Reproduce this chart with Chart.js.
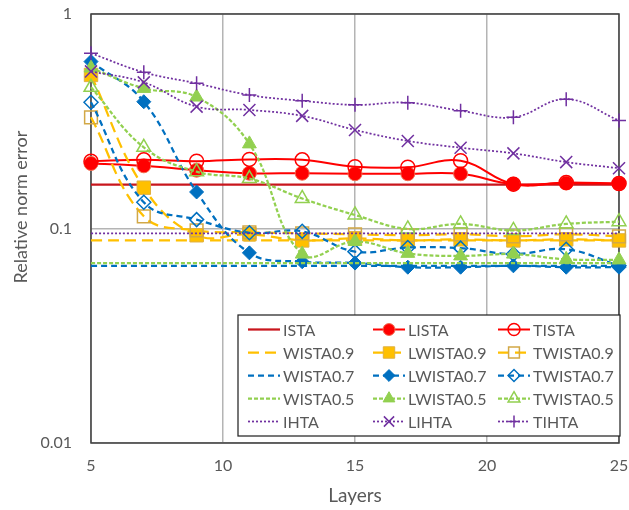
<!DOCTYPE html>
<html>
<head>
<meta charset="utf-8">
<script src="https://cdn.jsdelivr.net/npm/chart.js@4/dist/chart.umd.min.js"></script>
<style>
  html, body { margin: 0; padding: 0; background: #ffffff; }
  #wrap { width: 629px; height: 510px; position: relative; }
</style>
</head>
<body>
<div id="wrap"><canvas id="c" width="629" height="510"></canvas></div>
<script>
// Number of layers on the x axis
const layers = [5, 7, 9, 11, 13, 15, 17, 19, 21, 23, 25];

// Relative norm error per method
const ista      = [0.16, 0.16, 0.16, 0.16, 0.16, 0.16, 0.16, 0.16, 0.16, 0.16, 0.16];
const lista     = [0.201, 0.196, 0.187, 0.181, 0.181, 0.18, 0.18, 0.18, 0.161, 0.163, 0.162];
const tista     = [0.206, 0.209, 0.206, 0.21, 0.209, 0.194, 0.193, 0.207, 0.161, 0.164, 0.162];

const wista09   = [0.088, 0.088, 0.088, 0.088, 0.088, 0.088, 0.088, 0.088, 0.088, 0.088, 0.088];
const lwista09  = [0.52, 0.155, 0.093, 0.094, 0.088, 0.09, 0.088, 0.089, 0.088, 0.089, 0.088];
const twista09  = [0.33, 0.114, 0.098, 0.096, 0.095, 0.094, 0.093, 0.094, 0.092, 0.094, 0.092];

const wista07   = [0.067, 0.067, 0.067, 0.067, 0.067, 0.067, 0.067, 0.067, 0.067, 0.067, 0.067];
const lwista07  = [0.6, 0.39, 0.148, 0.077, 0.07, 0.069, 0.066, 0.066, 0.067, 0.066, 0.066];
const twista07  = [0.388, 0.1325, 0.11, 0.0955, 0.097, 0.078, 0.0815, 0.081, 0.076, 0.08, 0.067];

const wista05   = [0.069, 0.069, 0.069, 0.069, 0.069, 0.069, 0.069, 0.069, 0.069, 0.069, 0.069];
const lwista05  = [0.56, 0.45, 0.41, 0.248, 0.076, 0.087, 0.0766, 0.0745, 0.076, 0.0718, 0.0714];
const twista05  = [0.455, 0.239, 0.184, 0.171, 0.138, 0.1156, 0.0995, 0.105, 0.098, 0.105, 0.1076];

const ihta      = [0.095, 0.095, 0.095, 0.095, 0.095, 0.095, 0.095, 0.095, 0.095, 0.095, 0.095];
const lihta     = [0.54, 0.48, 0.37, 0.357, 0.335, 0.288, 0.256, 0.238, 0.224, 0.204, 0.191];
const tihta     = [0.656, 0.535, 0.475, 0.419, 0.394, 0.377, 0.386, 0.354, 0.33, 0.401, 0.319];

// Axis tick labels
const xTicks = [5, 10, 15, 20, 25];
const yTicks = [0.01, 0.1, 1];

const FONT = 'Lato, "Open Sans", sans-serif';
const TEXT = '#595959';

const RED = '#FF0000', DARKRED = '#C8161D', YEL = '#FFC000', BLUE = '#0070C0', GREEN = '#92D050', PURPLE = '#7030A0';
const DASH_Y = [11, 6], DASH_B = [6, 4], DASH_G = [4, 2], DOT_P = [2, 2];

function pts(values) { return values.map((v, i) => ({ x: layers[i], y: v })); }

function series(label, values, color, dash, width, marker) {
  const m = marker || {};
  return {
    label,
    data: pts(values),
    borderColor: color,
    borderWidth: width,
    borderDash: dash,
    backgroundColor: color,
    tension: 0.4,
    clip: false,
    pointStyle: m.style || 'circle',
    pointRadius: m.radius || 0,
    pointHoverRadius: m.radius || 0,
    pointBackgroundColor: m.fill || 'rgba(0,0,0,0)',
    pointBorderColor: m.stroke || color,
    pointBorderWidth: m.bw || 1.5
  };
}

const datasets = [
  series('ISTA', ista, DARKRED, [], 2.25),
  series('LISTA', lista, RED, [], 2, { style: 'circle', radius: 7, fill: RED, stroke: '#F26B4F', bw: 1 }),
  series('TISTA', tista, RED, [], 2, { style: 'circle', radius: 7, fill: 'rgba(0,0,0,0)', stroke: RED, bw: 1.5 }),

  series('WISTA0.9', wista09, YEL, DASH_Y, 2.25),
  series('LWISTA0.9', lwista09, YEL, DASH_Y, 2.25, { style: 'rect', radius: 9.5, fill: YEL, stroke: '#E0B040', bw: 1 }),
  series('TWISTA0.9', twista09, YEL, DASH_Y, 2.25, { style: 'rect', radius: 9, fill: 'rgba(0,0,0,0)', stroke: '#D2A846', bw: 1.5 }),

  series('WISTA0.7', wista07, BLUE, DASH_B, 2.25),
  series('LWISTA0.7', lwista07, BLUE, DASH_B, 2.25, { style: 'rectRot', radius: 7, fill: BLUE, stroke: BLUE, bw: 1 }),
  series('TWISTA0.7', twista07, BLUE, DASH_B, 2.25, { style: 'rectRot', radius: 7, fill: 'rgba(0,0,0,0)', stroke: BLUE, bw: 1.5 }),

  series('WISTA0.5', wista05, GREEN, DASH_G, 2.25),
  series('LWISTA0.5', lwista05, GREEN, DASH_G, 2.25, { style: 'triangle', radius: 8, fill: GREEN, stroke: GREEN, bw: 1 }),
  series('TWISTA0.5', twista05, GREEN, DASH_G, 2.25, { style: 'triangle', radius: 8, fill: 'rgba(0,0,0,0)', stroke: GREEN, bw: 1.5 }),

  series('IHTA', ihta, PURPLE, DOT_P, 1.75),
  series('LIHTA', lihta, PURPLE, DOT_P, 1.75, { style: 'crossRot', radius: 8.5, stroke: PURPLE, bw: 1.5 }),
  series('TIHTA', tihta, PURPLE, DOT_P, 1.75, { style: 'cross', radius: 7, stroke: PURPLE, bw: 1.5 })
];
// later series sit on top of earlier ones
datasets.forEach((d, i) => { d.order = datasets.length - i; });

// Plot frame under the series, plus the y-axis title
const framePlugin = {
  id: 'frame',
  beforeDatasetsDraw(chart) {
    const { ctx, chartArea: a } = chart;
    ctx.save();
    ctx.strokeStyle = '#404040';
    ctx.lineWidth = 1.5;
    ctx.strokeRect(a.left, a.top, a.right - a.left, a.bottom - a.top);
    ctx.translate(21, a.top + (a.bottom - a.top) * 0.45);
    ctx.rotate(-Math.PI / 2);
    ctx.fillStyle = TEXT;
    ctx.font = '18px ' + FONT;
    ctx.textAlign = 'center';
    ctx.textBaseline = 'middle';
    ctx.fillText('Relative norm error', 0, 0);
    ctx.restore();
  }
};

// Three-column boxed legend in the lower right of the plot
const gridLegend = {
  id: 'gridLegend',
  afterDraw(chart) {
    const { ctx, chartArea: a } = chart;
    const w = 382, h = 121;
    const left = a.right - w + 1, top = a.bottom - 7 - h;
    ctx.save();
    ctx.fillStyle = '#ffffff';
    ctx.fillRect(left, top, w, h);
    ctx.strokeStyle = '#262626';
    ctx.lineWidth = 1.25;
    ctx.strokeRect(left, top, w, h);
    ctx.font = '16px ' + FONT;
    ctx.textBaseline = 'middle';
    chart.data.datasets.forEach((ds, i) => {
      const col = i % 3, row = Math.floor(i / 3);
      const x = left + 10 + col * 125;
      const y = top + 14.5 + row * 23;
      ctx.save();
      ctx.strokeStyle = ds.borderColor;
      ctx.lineWidth = ds.borderWidth;
      ctx.setLineDash(ds.borderDash || []);
      ctx.beginPath();
      ctx.moveTo(x, y);
      ctx.lineTo(x + 32, y);
      ctx.stroke();
      ctx.restore();
      if (ds.pointRadius > 0) {
        ctx.save();
        ctx.setLineDash([]);
        ctx.fillStyle = ds.pointBackgroundColor;
        ctx.strokeStyle = ds.pointBorderColor;
        ctx.lineWidth = ds.pointBorderWidth;
        Chart.helpers.drawPoint(ctx, {
          pointStyle: ds.pointStyle,
          radius: ds.pointRadius * 0.85,
          rotation: 0,
          borderWidth: ds.pointBorderWidth
        }, x + 16, y);
        ctx.restore();
      }
      ctx.fillStyle = TEXT;
      ctx.textAlign = 'left';
      ctx.fillText(ds.label, x + 35, y + 1);
    });
    ctx.restore();
  }
};

function noEdgePadding(scale) {
  scale.paddingTop = 0;
  scale.paddingBottom = 0;
  scale.paddingLeft = 0;
  scale.paddingRight = 0;
}

new Chart(document.getElementById('c'), {
  type: 'line',
  data: { datasets },
  options: {
    responsive: false,
    animation: false,
    events: [],
    layout: { autoPadding: false, padding: { top: 14, right: 10, bottom: 0, left: 0 } },
    plugins: { legend: { display: false }, tooltip: { enabled: false } },
    scales: {
      x: {
        type: 'linear',
        min: 5, max: 25,
        afterBuildTicks(scale) { scale.ticks = xTicks.map(v => ({ value: v })); },
        afterFit(scale) { scale.height = 67; noEdgePadding(scale); },
        grid: { color: '#B4B4B4', lineWidth: 1.5, drawTicks: false },
        border: { display: false },
        ticks: { color: TEXT, font: { family: FONT, size: 16 }, padding: 13, maxRotation: 0 },
        title: { display: true, text: 'Layers', color: TEXT, font: { family: FONT, size: 19 }, padding: { top: 0, bottom: 3 } }
      },
      y: {
        type: 'logarithmic',
        min: 0.01, max: 1,
        afterBuildTicks(scale) { scale.ticks = yTicks.map(v => ({ value: v })); },
        afterFit(scale) { scale.width = 91; noEdgePadding(scale); },
        grid: { color: '#B4B4B4', lineWidth: 1.5, drawTicks: false },
        border: { display: false },
        ticks: { color: TEXT, font: { family: FONT, size: 16 }, padding: 19, callback: (v) => String(v) }
      }
    }
  },
  plugins: [framePlugin, gridLegend]
});
</script>
</body>
</html>
